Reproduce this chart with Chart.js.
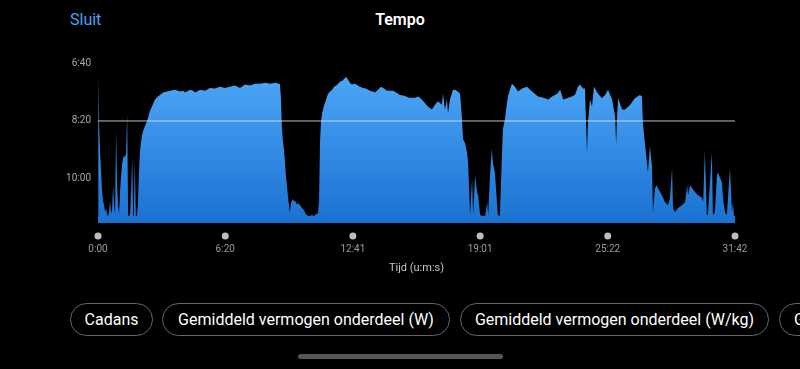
<!DOCTYPE html>
<html>
<head>
<meta charset="utf-8">
<script src="https://cdn.jsdelivr.net/npm/chart.js@4/dist/chart.umd.min.js"></script>
<style>
  html, body { margin: 0; padding: 0; background: #000; width: 800px; height: 369px; overflow: hidden; font-family: Roboto, "Noto Sans", sans-serif; }
  .close { position: absolute; left: 70px; top: 10px; color: #4aa3f5; font-size: 16px; line-height: 20px; }
  .title { position: absolute; left: 0; top: 10px; width: 800px; text-align: center; color: #fff; font-size: 16px; font-weight: 600; line-height: 20px; }
  #wrap { position: absolute; left: 0; top: 50px; width: 800px; height: 230px; }
  .pill { position: absolute; top: 303px; height: 31px; border: 1px solid #666; border-radius: 17px; color: #fff; font-size: 16px; line-height: 31px; text-align: center; white-space: nowrap; overflow: hidden; }
  .bar { position: absolute; left: 298px; top: 354px; width: 205px; height: 5px; border-radius: 3px; background: #555; }
</style>
</head>
<body>
<div class="close">Sluit</div>
<div class="title">Tempo</div>
<div id="wrap"><canvas id="paceChart"></canvas></div>
<div class="pill" style="left:70px;width:81px">Cadans</div>
<div class="pill" style="left:162px;width:286px">Gemiddeld vermogen onderdeel (W)</div>
<div class="pill" style="left:460px;width:307px">Gemiddeld vermogen onderdeel (W/kg)</div>
<div class="pill" style="left:779px;width:200px;text-align:left;padding-left:14px">Gemiddelde</div>
<div class="bar"></div>
<script>
// tijd in seconden, tempo in seconden per km
const timeSec = [
  0, 1, 3, 6, 9, 12, 15, 18, 21, 24, 27, 30, 33, 36, 39, 42, 45, 48, 51, 54,
  57, 60, 63, 66, 69, 72, 75, 78, 81, 84, 87, 90, 93, 96, 99, 102, 105, 107, 110, 113,
  116, 119, 122, 125, 128, 131, 134, 140, 146, 149, 155, 161, 170, 179, 185, 194, 206, 215, 230, 245,
  254, 260, 275, 284, 290, 305, 320, 334, 349, 364, 379, 394, 409, 424, 439, 454, 469, 484, 499, 514,
  529, 540, 543, 546, 549, 552, 555, 558, 561, 564, 567, 570, 573, 576, 579, 582, 585, 588, 591, 594,
  597, 603, 609, 615, 621, 627, 633, 639, 645, 651, 657, 660, 663, 666, 669, 675, 681, 687, 693, 699,
  705, 711, 717, 723, 729, 735, 741, 747, 752, 758, 767, 776, 782, 791, 800, 812, 821, 827, 836, 845,
  854, 863, 872, 881, 890, 902, 911, 920, 929, 938, 947, 956, 961, 967, 985, 997, 1006, 1015, 1027, 1030,
  1036, 1042, 1045, 1051, 1060, 1066, 1075, 1081, 1087, 1090, 1096, 1102, 1105, 1111, 1117, 1120, 1126, 1132, 1135, 1141,
  1147, 1156, 1162, 1165, 1171, 1176, 1179, 1185, 1194, 1200, 1206, 1209, 1215, 1221, 1224, 1230, 1236, 1245, 1254, 1266,
  1281, 1296, 1314, 1335, 1344, 1356, 1371, 1380, 1389, 1400, 1415, 1424, 1433, 1439, 1448, 1454, 1460, 1463, 1469, 1475,
  1481, 1493, 1505, 1514, 1523, 1535, 1544, 1547, 1550, 1553, 1565, 1574, 1589, 1603, 1618, 1624, 1627, 1633, 1642, 1648,
  1654, 1657, 1663, 1669, 1672, 1684, 1693, 1702, 1708, 1714, 1717, 1723, 1732, 1744, 1753, 1759, 1762, 1768, 1774, 1783,
  1792, 1804, 1807, 1812, 1818, 1821, 1833, 1836, 1842, 1848, 1851, 1863, 1866, 1872, 1878, 1881, 1887, 1893, 1896, 1899,
  1902
];
const paceSec = [
  664, 424, 501, 552, 586, 620, 637, 645, 657, 650, 661, 664, 657, 637, 659, 654, 611, 645, 661, 518,
  611, 645, 661, 620, 594, 574, 565, 560, 562, 555, 489, 664, 664, 659, 620, 565, 664, 661, 569, 664,
  664, 645, 594, 555, 538, 526, 518, 509, 501, 495, 483, 475, 463, 458, 455, 451, 449, 448, 446, 449,
  448, 451, 446, 448, 451, 446, 448, 443, 444, 441, 443, 441, 439, 443, 437, 439, 436, 436, 434, 436,
  434, 436, 436, 458, 509, 535, 548, 569, 594, 611, 628, 645, 657, 642, 637, 635, 639, 637, 640, 644,
  642, 645, 650, 654, 661, 664, 664, 662, 664, 661, 659, 637, 535, 501, 487, 473, 463, 453, 449, 446,
  441, 439, 436, 432, 431, 427, 424, 429, 434, 437, 436, 439, 441, 443, 444, 448, 449, 451, 446, 441,
  444, 448, 448, 448, 451, 455, 456, 458, 460, 460, 460, 458, 460, 463, 475, 480, 472, 466, 472, 453,
  480, 463, 487, 463, 446, 446, 449, 453, 497, 531, 538, 555, 572, 662, 599, 662, 594, 623, 628, 662,
  664, 664, 640, 662, 589, 548, 572, 589, 662, 664, 560, 514, 497, 470, 458, 446, 436, 441, 449, 444,
  441, 449, 458, 461, 463, 458, 453, 446, 463, 461, 458, 455, 441, 437, 444, 444, 555, 504, 463, 475,
  441, 453, 461, 455, 446, 463, 492, 540, 492, 461, 480, 480, 472, 461, 455, 458, 504, 538, 589, 543,
  577, 657, 616, 611, 616, 628, 640, 645, 633, 582, 650, 657, 650, 645, 640, 611, 628, 611, 616, 623,
  628, 633, 640, 552, 662, 662, 555, 662, 657, 594, 589, 606, 633, 657, 662, 633, 582, 657, 640, 664,
  664
];
const avgPace = 500;
const timeTicks = [0, 380, 761, 1141, 1522, 1902];
const paceTicks = [400, 500, 600];
const paceMin = 400;
const paceMax = 676;

function fmt(s) {
  const m = Math.floor(s / 60);
  const r = Math.round(s % 60);
  return m + ":" + String(r).padStart(2, "0");
}

const tickDots = {
  id: "tickDots",
  afterDraw(chart) {
    const ctx = chart.ctx;
    const x = chart.scales.x;
    ctx.save();
    ctx.fillStyle = "#bdbdbd";
    x.ticks.forEach(t => {
      ctx.beginPath();
      ctx.arc(x.getPixelForValue(t.value), chart.chartArea.bottom + 13, 3.5, 0, Math.PI * 2);
      ctx.fill();
    });
    ctx.restore();
  }
};

new Chart(document.getElementById("paceChart"), {
  type: "line",
  data: {
    datasets: [
      {
        label: "Gemiddeld",
        data: [{ x: 0, y: avgPace }, { x: 1902, y: avgPace }],
        borderColor: "rgba(225,225,225,0.85)",
        borderWidth: 1,
        pointRadius: 0,
        fill: false,
        order: 0
      },
      {
        label: "Tempo",
        data: timeSec.map((t, i) => ({ x: t, y: paceSec[i] })),
        borderWidth: 0,
        pointRadius: 0,
        tension: 0,
        fill: { value: paceMax },
        backgroundColor: (c) => {
          const a = c.chart.chartArea;
          if (!a) return "#3a90ea";
          const g = c.chart.ctx.createLinearGradient(0, a.top, 0, a.bottom);
          g.addColorStop(0, "#50abfa");
          g.addColorStop(1, "#1b71d1");
          return g;
        },
        order: 1
      }
    ]
  },
  options: {
    responsive: true,
    maintainAspectRatio: false,
    animation: false,
    layout: { padding: { top: 11, right: 65, left: 0, bottom: 0 } },
    plugins: {
      legend: { display: false },
      tooltip: { enabled: false }
    },
    scales: {
      x: {
        type: "linear",
        min: 0,
        max: 1902,
        grid: { display: false, drawTicks: false },
        border: { display: false },
        afterBuildTicks: s => { s.ticks = timeTicks.map(v => ({ value: v })); },
        afterFit: s => { s.height = 57; },
        ticks: {
          autoSkip: false,
          maxRotation: 0,
          padding: 20,
          color: "#9c9c9c",
          font: { family: "Roboto", size: 10 },
          callback: v => fmt(v)
        },
        title: {
          display: true,
          text: "Tijd (u:m:s)",
          color: "#c4c4c4",
          font: { family: "Roboto", size: 11 },
          padding: { top: 0, bottom: 5 }
        }
      },
      y: {
        reverse: true,
        min: paceMin,
        max: paceMax,
        grid: { display: false, drawTicks: false },
        border: { display: false },
        afterBuildTicks: s => { s.ticks = paceTicks.map(v => ({ value: v })); },
        afterFit: s => { s.width = 98; },
        ticks: {
          padding: 7,
          color: "#a8a8a8",
          font: { family: "Roboto", size: 10 },
          callback: v => fmt(v)
        }
      }
    }
  },
  plugins: [tickDots]
});
</script>
</body>
</html>
